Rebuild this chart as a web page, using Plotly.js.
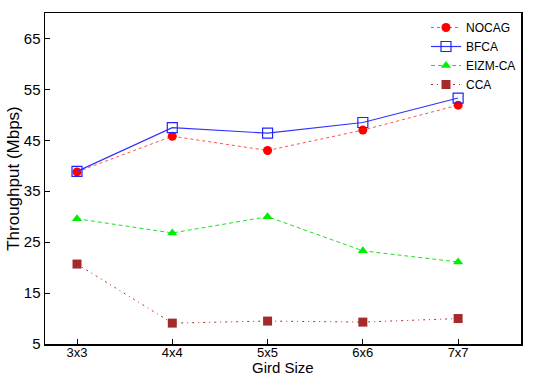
<!DOCTYPE html>
<html><head><meta charset="utf-8">
<script src="https://cdn.plot.ly/plotly-3.0.1.min.js"></script>
<style>html,body{margin:0;padding:0;background:#fff}#c{width:540px;height:378px}</style>
</head><body><div id="c"></div>
<script>
const categories = ["3x3","4x4","5x5","6x6","7x7"];
const nocag = [38.8, 45.8, 43.0, 47.0, 51.9];
const bfca = [38.9, 47.5, 46.4, 48.5, 53.3];
const eizm = [29.6, 26.8, 30.0, 23.3, 21.1];
const cca = [20.7, 9.1, 9.5, 9.3, 10.0];
const yTicks = [5, 15, 25, 35, 45, 55, 65];
const xTitle = "Gird Size";
const yTitle = "Throughput (Mbps)";

const xIdx = categories.map((_, i) => i);
const traces = [
  {name:"NOCAG", y:nocag, line:{color:"#ff5050", dash:"dot", width:1}, marker:{symbol:"circle", size:9, color:"#ff0000"}},
  {name:"BFCA", y:bfca, line:{color:"#3333ff", dash:"solid", width:1.2}, marker:{symbol:"square-open", size:10, color:"#2222ff", line:{width:1.2}}},
  {name:"EIZM-CA", y:eizm, line:{color:"#22dd22", dash:"4px,3px", width:1}, marker:{symbol:"triangle-up", size:9, color:"#00ee00"}},
  {name:"CCA", y:cca, line:{color:"#b03030", dash:"2px,4px,1px,4px", width:1}, marker:{symbol:"square", size:9, color:"#a52a2a"}}
].map(t => Object.assign({type:"scatter", mode:"lines+markers", x:xIdx}, t));

const layout = {
  width:540, height:378,
  margin:{l:45, r:19, t:13, b:34},
  paper_bgcolor:"#fff", plot_bgcolor:"#fff",
  font:{family:"Liberation Sans, Arial, sans-serif", size:15, color:"#000"},
  showlegend:true,
  legend:{x:1.0, y:1.0, xanchor:"right", yanchor:"top", bgcolor:"rgba(0,0,0,0)", font:{size:12}, tracegroupgap:0, itemwidth:30},
  xaxis:{range:[-0.336, 4.66], tickvals:xIdx, ticktext:categories, showgrid:false, zeroline:false,
    showline:true, linecolor:"#000", linewidth:1.5, mirror:true, ticks:"inside", ticklen:5, tickcolor:"#000",
    tickfont:{size:13}, ticklabelstandoff:-4},
  yaxis:{range:[5, 70], tickvals:yTicks, showgrid:false, zeroline:false,
    showline:true, linecolor:"#000", linewidth:1.5, mirror:true, ticks:"inside", ticklen:5, tickcolor:"#000",
    tickfont:{size:15}, title:{text:yTitle, font:{size:17}, standoff:0}},
  annotations:[{text:xTitle, xref:"paper", yref:"paper", x:0.5, y:0, xanchor:"center", yanchor:"bottom",
    yshift:-33, showarrow:false, font:{size:15}, borderpad:0}]
};
Plotly.newPlot("c", traces, layout, {displayModeBar:false, staticPlot:true});
</script></body></html>
